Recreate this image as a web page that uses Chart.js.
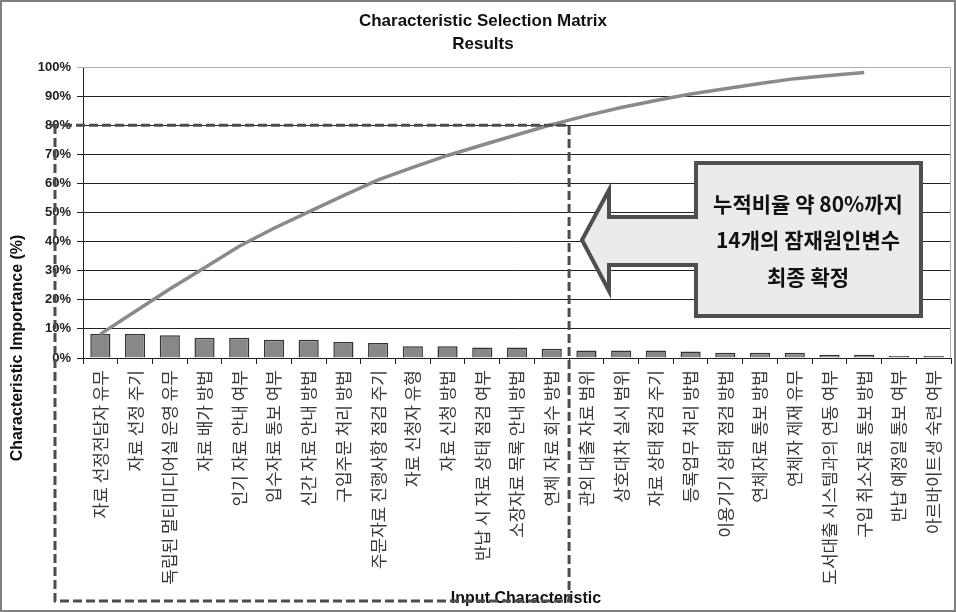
<!DOCTYPE html>
<html lang="ko">
<head>
<meta charset="UTF-8">
<title>Characteristic Selection Matrix Results</title>
<script src="https://cdn.jsdelivr.net/npm/chart.js"></script>
<style>
    html, body { margin: 0; padding: 0; background: #fff; }
    #chart { display: block; }
</style>
</head>
<body>
<canvas id="chart" width="956" height="612"></canvas>
<script>
    // input characteristics, in pareto order
    const characteristics = [
        '자료 선정전담자 유무',
        '자료 선정 주기',
        '독립된 멀티미디어실 운영 유무',
        '자료 배가 방법',
        '인기 자료 안내 여부',
        '입수자료 통보 여부',
        '신간 자료 안내 방법',
        '구입주문 처리 방법',
        '주문자료 진행사항 점검 주기',
        '자료 신청자 유형',
        '자료 신청 방법',
        '반납 시 자료 상태 점검 여부',
        '소장자료 목록 안내 방법',
        '연체 자료 회수 방법',
        '관외 대출 자료 범위',
        '상호대차 실시 범위',
        '자료 상태 점검 주기',
        '등록업무 처리 방법',
        '이용기기 상태 점검 방법',
        '연체자료 통보 방법',
        '연체자 제재 유무',
        '도서대출 시스템과의 연동 여부',
        '구입 취소자료 통보 방법',
        '반납 예정일 통보 여부',
        '아르바이트생 숙련 여부'
    ];

    // importance of each characteristic (%)
    const importance = [8.25, 8.25, 7.8, 7.0, 7.0, 6.3, 6.3, 5.5, 5.15, 4.0, 4.0, 3.65, 3.65, 3.2,
        2.6, 2.6, 2.6, 2.2, 1.8, 1.8, 1.8, 1.1, 1.1, 0.7, 0.7];

    // cumulative line (%)
    const cumulative = [8.2, 16.0, 23.7, 31.0, 38.4, 44.6, 50.2, 55.8, 61.2, 65.5, 69.6, 73.2, 76.7, 80.2,
        83.3, 86.1, 88.5, 90.7, 92.5, 94.3, 96.0, 97.1, 98.1, null, null];

    const yTicks = [0, 10, 20, 30, 40, 50, 60, 70, 80, 90, 100];
    const cutoff = 80;       // cumulative ratio used for selection
    const selectedCount = 14;

    const titleLines = ['Characteristic Selection Matrix', 'Results'];
    const calloutLines = ['누적비율 약 80%까지', '14개의 잠재원인변수', '최종 확정'];

    Chart.defaults.font.family = '"Liberation Sans", Arial, sans-serif';
    Chart.defaults.color = '#222';

    // titles, the dashed selection box and the arrow callout
    const extras = {
        id: 'extras',
        afterDraw(chart) {
            const ctx = chart.ctx;
            const ca = chart.chartArea;
            const x = chart.scales.x;
            const y = chart.scales.y;
            ctx.save();

            // light frame on top/right of the plot
            ctx.strokeStyle = '#b0b0b0';
            ctx.lineWidth = 1;
            ctx.beginPath();
            ctx.moveTo(ca.left, ca.top + 0.5);
            ctx.lineTo(ca.right - 0.5, ca.top + 0.5);
            ctx.lineTo(ca.right - 0.5, ca.bottom);
            ctx.stroke();

            // chart title
            ctx.fillStyle = '#111';
            ctx.textAlign = 'center';
            ctx.textBaseline = 'middle';
            ctx.font = 'bold 17px "Liberation Sans", Arial, sans-serif';
            ctx.fillText(titleLines[0], 483, 21, 248);
            ctx.fillText(titleLines[1], 483, 44);

            // axis titles
            ctx.font = 'bold 16px "Liberation Sans", Arial, sans-serif';
            ctx.fillText('Input Characteristic', 526, 599);
            ctx.save();
            ctx.translate(18, 348);
            ctx.rotate(-Math.PI / 2);
            ctx.fillText('Characteristic Importance (%)', 0, 0);
            ctx.restore();

            // dashed box round the selected characteristics
            const y80 = y.getPixelForValue(cutoff);
            const xr = (x.getPixelForValue(selectedCount - 1) + x.getPixelForValue(selectedCount)) / 2;
            ctx.strokeStyle = '#4d4d4d';
            ctx.lineWidth = 3;
            ctx.setLineDash([9, 4]);
            ctx.beginPath();
            ctx.moveTo(50, y80);
            ctx.lineTo(xr, y80);
            ctx.lineTo(xr, 601);
            ctx.lineTo(55, 601);
            ctx.lineTo(55, y80);
            ctx.stroke();
            ctx.setLineDash([]);

            // arrow callout
            ctx.beginPath();
            ctx.moveTo(582, 240);
            ctx.lineTo(609, 190);
            ctx.lineTo(609, 217);
            ctx.lineTo(696, 217);
            ctx.lineTo(696, 163);
            ctx.lineTo(921, 163);
            ctx.lineTo(921, 316);
            ctx.lineTo(696, 316);
            ctx.lineTo(696, 265);
            ctx.lineTo(609, 265);
            ctx.lineTo(609, 291);
            ctx.closePath();
            ctx.fillStyle = '#ebebeb';
            ctx.fill();
            ctx.strokeStyle = '#4f4f4f';
            ctx.lineWidth = 4;
            ctx.lineJoin = 'miter';
            ctx.stroke();

            ctx.fillStyle = '#111';
            ctx.font = 'bold 21px "Noto Sans CJK KR", sans-serif';
            ctx.fillText(calloutLines[0], 808, 204);
            ctx.fillText(calloutLines[1], 808, 240);
            ctx.fillText(calloutLines[2], 808, 277);

            // outer frame
            ctx.strokeStyle = '#808080';
            ctx.lineWidth = 2;
            ctx.strokeRect(1, 1, 954, 610);
            ctx.restore();
        }
    };

    new Chart(document.getElementById('chart'), {
        data: {
            labels: characteristics,
            datasets: [
                {
                    type: 'line',
                    label: 'Cumulative',
                    data: cumulative,
                    borderColor: '#8a8a8a',
                    borderWidth: 3.5,
                    pointRadius: 0,
                    tension: 0,
                    spanGaps: false,
                    order: 1
                },
                {
                    type: 'bar',
                    label: 'Importance',
                    data: importance,
                    backgroundColor: '#888888',
                    borderColor: '#333333',
                    borderWidth: 1.5,
                    categoryPercentage: 1,
                    barPercentage: 0.58,
                    order: 2
                }
            ]
        },
        options: {
            responsive: false,
            animation: false,
            layout: { padding: { left: 0, right: 5, top: 67, bottom: 0 } },
            plugins: {
                legend: { display: false },
                tooltip: { enabled: false },
                title: { display: false }
            },
            scales: {
                x: {
                    offset: true,
                    grid: {
                        offset: true,
                        drawOnChartArea: false,
                        drawTicks: true,
                        tickLength: 6,
                        color: '#222'
                    },
                    border: { color: '#222', width: 1 },
                    ticks: {
                        autoSkip: false,
                        minRotation: 90,
                        maxRotation: 90,
                        padding: 6,
                        color: '#3a3a3a',
                        font: { family: '"Noto Sans CJK KR", sans-serif', size: 17 }
                    },
                    afterFit(scale) {
                        scale.height = 254;
                        scale.paddingLeft = 0;
                        scale.paddingRight = 0;
                    }
                },
                y: {
                    min: 0,
                    max: 100,
                    afterBuildTicks(scale) { scale.ticks = yTicks.map(v => ({ value: v })); },
                    grid: {
                        color: ctx => (ctx.tick && ctx.tick.value === 100 ? '#b0b0b0' : '#222'),
                        tickLength: 6,
                        lineWidth: 1
                    },
                    border: { color: '#222', width: 1 },
                    ticks: {
                        padding: 6,
                        color: '#222',
                        font: { size: 13, weight: 'bold' },
                        callback: v => v + '%'
                    },
                    afterFit(scale) { scale.width = 83; }
                }
            }
        },
        plugins: [extras]
    });
</script>
</body>
</html>
